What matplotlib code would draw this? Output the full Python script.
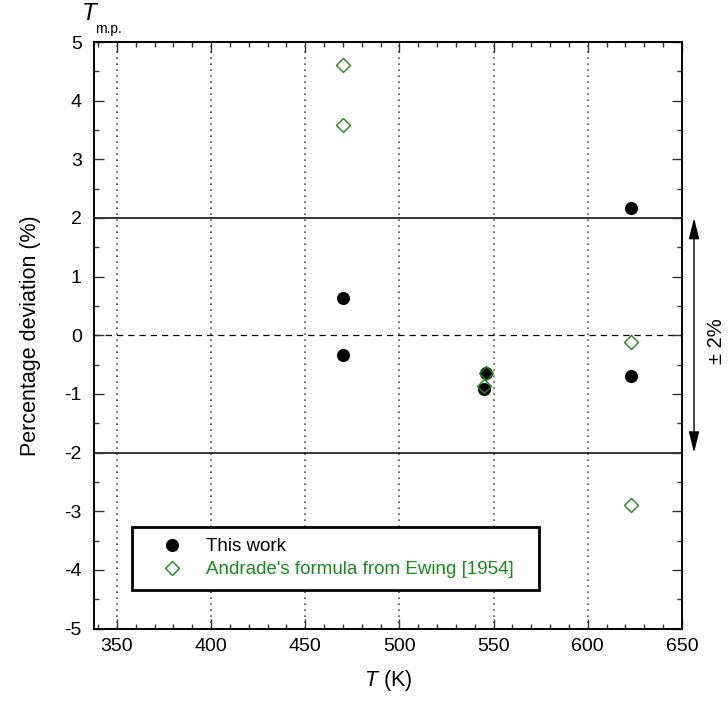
import matplotlib
matplotlib.use("Agg")
import matplotlib.pyplot as plt
from matplotlib.ticker import MultipleLocator
from matplotlib.transforms import blended_transform_factory
from matplotlib.patches import ArrowStyle

plt.rcParams["font.family"] = ["Liberation Sans", "DejaVu Sans"]
plt.rcParams["axes.unicode_minus"] = False
plt.rcParams["mathtext.fontset"] = "custom"
plt.rcParams["mathtext.it"] = "Liberation Sans:italic"
plt.rcParams["mathtext.rm"] = "Liberation Sans"

# Temperatures (K) and percentage deviations
t_this = [470, 470, 546, 545, 623, 623]
dev_this = [0.64, -0.33, -0.65, -0.92, 2.17, -0.69]

t_andrade = [470, 470, 546, 545, 623, 623]
dev_andrade = [4.60, 3.59, -0.65, -0.86, -0.12, -2.90]

x_ticks = [350, 400, 450, 500, 550, 600, 650]
y_ticks = [-5, -4, -3, -2, -1, 0, 1, 2, 3, 4, 5]

green = "#1a8a1a"

fig = plt.figure(figsize=(7.28, 7.16), dpi=100)
ax = fig.add_axes([0.1295, 0.1221, 0.8073, 0.8192])

ax.set_xlim(338, 650)
ax.set_ylim(-5, 5)

# vertical dotted grid at the major temperature ticks
for xv in x_ticks[:-1]:
    ax.axvline(xv, color="#555555", lw=1.2, ls=(0, (1, 2.6)), zorder=1)

# +/-2 % band limits and zero line
ax.axhline(2, color="black", lw=1.1, zorder=1)
ax.axhline(-2, color="black", lw=1.1, zorder=1)
ax.axhline(0, color="black", lw=0.9, ls=(0, (5, 4)), zorder=1)

ax.plot(t_this, dev_this, "o", color="black", ms=8.4, ls="none",
        label="This work", zorder=3)
ax.plot(t_andrade, dev_andrade, "D", mfc="none", mec=green, mew=1.0,
        ms=7.3, ls="none", label="Andrade's formula from Ewing [1954]",
        zorder=4)

ax.set_xticks(x_ticks)
ax.set_yticks(y_ticks)
ax.xaxis.set_minor_locator(MultipleLocator(10))
ax.yaxis.set_minor_locator(MultipleLocator(0.5))
ax.tick_params(which="both", direction="in", top=True, right=True,
               labelsize=14, width=1.0, color="#333333")
ax.tick_params(which="major", length=7)
ax.tick_params(which="minor", length=3.5)
ax.tick_params(axis="y", pad=9)
ax.tick_params(axis="x", pad=7)

for sp in ax.spines.values():
    sp.set_linewidth(1.4)
    sp.set_color("black")

ax.set_xlabel(r"$T$ (K)", fontsize=15.5, labelpad=9)
ax.set_ylabel("Percentage deviation (%)", fontsize=15.5, labelpad=17)

leg = ax.legend(loc="lower left", bbox_to_anchor=(0.064, 0.066, 0.693, 0.107),
                mode="expand", fontsize=13.5, frameon=True, fancybox=False,
                borderpad=0.62, labelspacing=0.3, handlelength=3.0,
                handletextpad=0.35, borderaxespad=0)
leg.get_frame().set_edgecolor("black")
leg.get_frame().set_linewidth(2.0)
leg.get_frame().set_alpha(1)
for txt, col in zip(leg.get_texts(), ["black", green]):
    txt.set_color(col)

# double-headed arrow marking the +/-2 % band
band = blended_transform_factory(ax.transAxes, ax.transData)
ax.annotate("", xy=(1.0205, -2), xytext=(1.0205, 2),
            xycoords=band, textcoords=band,
            arrowprops=dict(arrowstyle=ArrowStyle("<|-|>", head_length=0.8,
                                                  head_width=0.2),
                            color="black", lw=1.0, mutation_scale=16,
                            shrinkA=0, shrinkB=0),
            annotation_clip=False)
ax.text(1.058, -0.1, "± 2%", fontsize=14.5, rotation=90, ha="center",
        va="center", transform=band, clip_on=False)

# melting-point marker above the top-left corner
fig.text(89 / 728, 1 - 13 / 716, "T", fontsize=17.5, fontstyle="italic",
         ha="center", va="center")
fig.text(108 / 728, 1 - 29 / 716, "m.p.", fontsize=10, ha="center",
         va="center")

fig.savefig("out.png", dpi=100)
